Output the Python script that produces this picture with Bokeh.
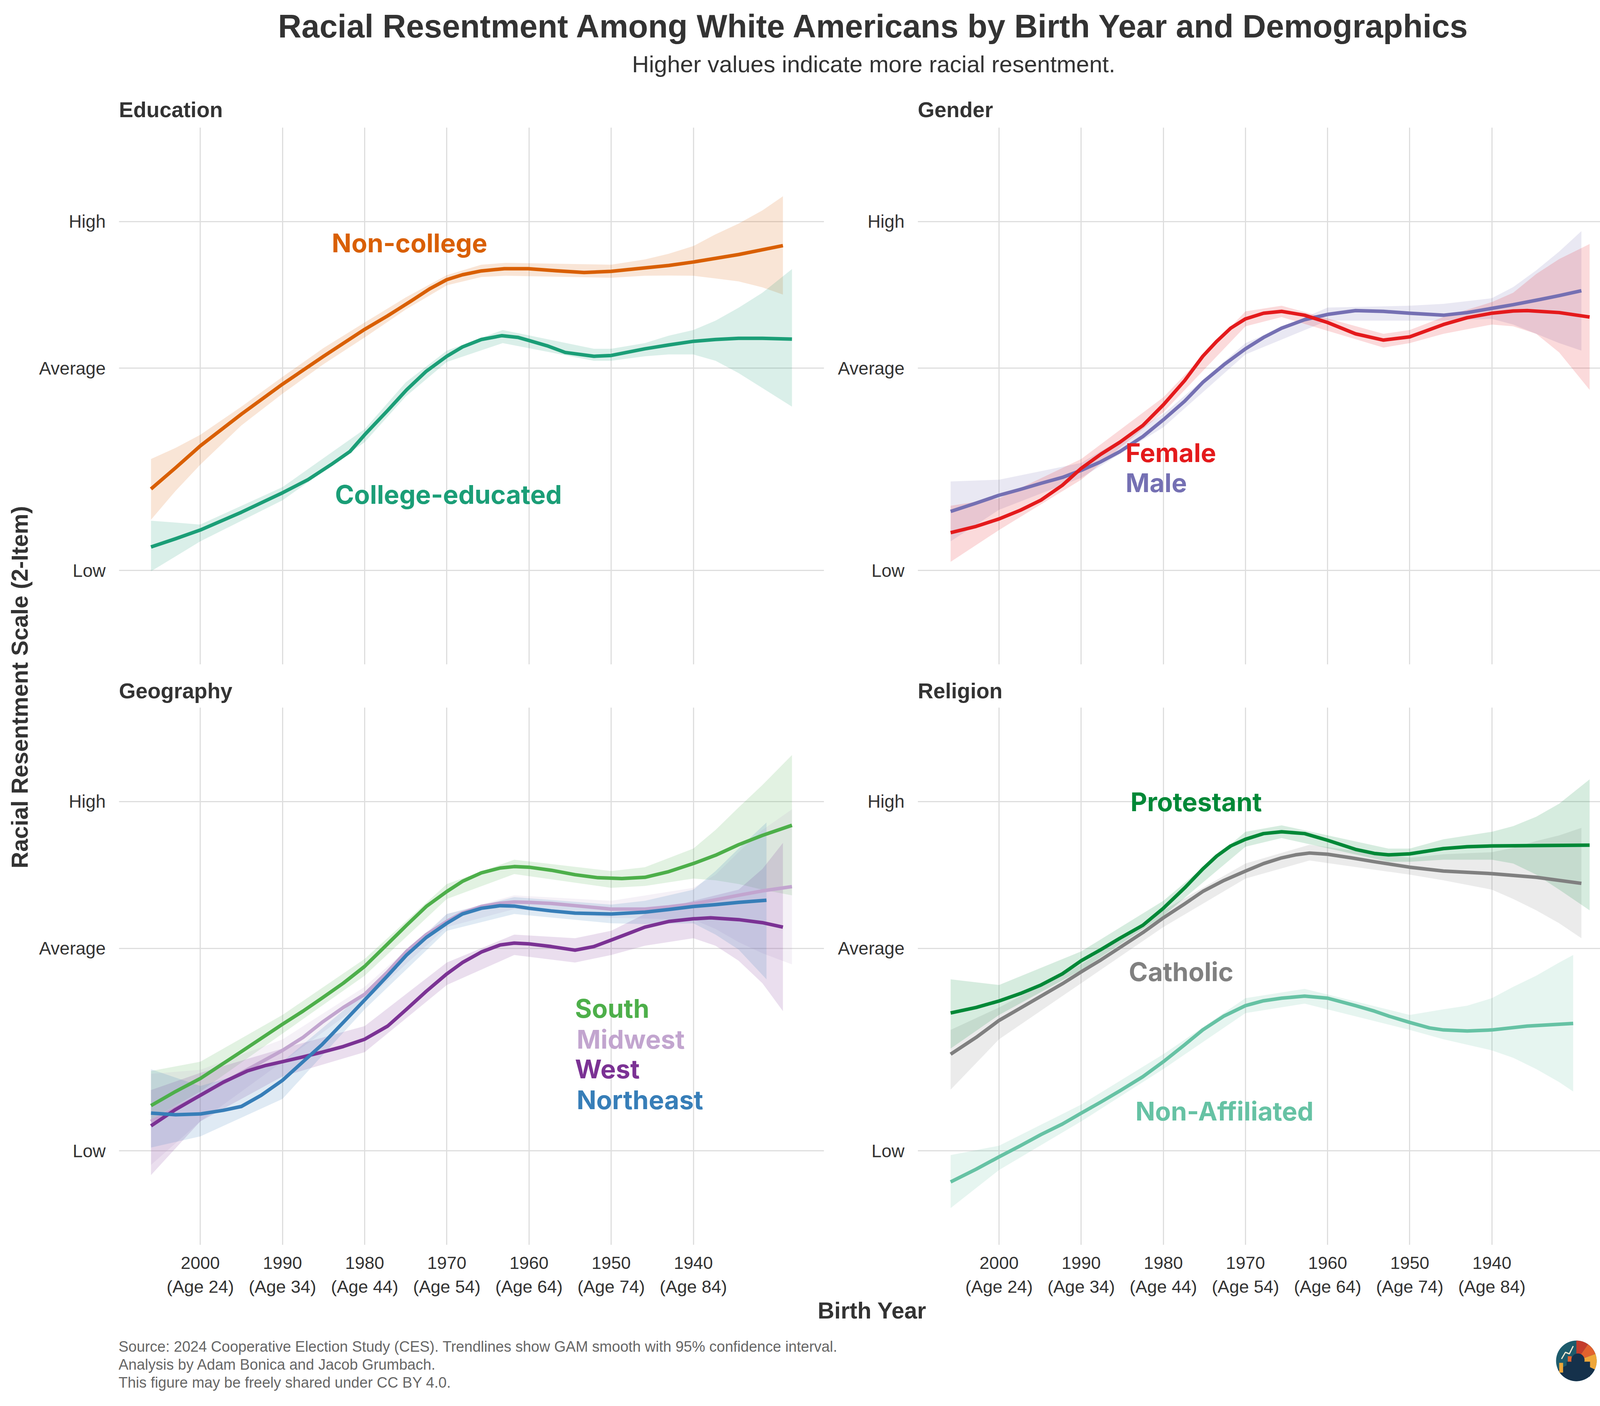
import math
from bokeh.plotting import figure
from bokeh.layouts import row, column
from bokeh.models import Range1d, FixedTicker, ColumnDataSource
from bokeh.core.properties import value
from bokeh.embed import file_html
from bokeh.resources import INLINE

# ---- axes ----
tick_years = [2000, 1990, 1980, 1970, 1960, 1950, 1940]
tick_labels = ["2000\n(Age 24)", "1990\n(Age 34)", "1980\n(Age 44)", "1970\n(Age 54)",
               "1960\n(Age 64)", "1950\n(Age 74)", "1940\n(Age 84)"]
scale_ticks = [2.0, 3.0, 3.725]
scale_labels = ["Low", "Average", "High"]

# ---- Education ----
noncollege_yr = [2006.0, 2003.0, 2000.0, 1995.0, 1990.0, 1985.0, 1980.0, 1977.2, 1974.4, 1972.1,
                 1970.0, 1968.1, 1965.8, 1963.0, 1960.1, 1956.7, 1953.3, 1950.0, 1946.4, 1943.0,
                 1940.0, 1934.5, 1929.1]
noncollege_fit = [2.403, 2.508, 2.616, 2.773, 2.921, 3.059, 3.192, 3.259, 3.331, 3.392,
                  3.438, 3.462, 3.481, 3.492, 3.492, 3.482, 3.473, 3.479, 3.494, 3.508,
                  3.525, 3.562, 3.606]
noncollege_band_yr = [2006.0, 2003.0, 2000.0, 1995.0, 1990.0, 1985.0, 1980.0, 1975.0, 1970.0, 1965.8,
                      1962.8, 1950.0, 1945.9, 1943.0, 1940.0, 1937.4, 1934.5, 1931.6, 1929.1]
noncollege_lo = [2.251, 2.394, 2.523, 2.717, 2.874, 3.020, 3.152, 3.290, 3.410, 3.451,
                 3.457, 3.447, 3.457, 3.458, 3.457, 3.444, 3.429, 3.400, 3.364]
noncollege_hi = [2.551, 2.606, 2.671, 2.810, 2.957, 3.100, 3.226, 3.350, 3.460, 3.512,
                 3.521, 3.512, 3.538, 3.566, 3.604, 3.660, 3.715, 3.780, 3.850]

college_yr = [2006.0, 2003.0, 2000.0, 1995.0, 1990.0, 1986.9, 1984.1, 1981.8, 1980.0, 1977.2,
              1974.9, 1972.5, 1970.0, 1968.1, 1965.8, 1963.3, 1961.3, 1960.0, 1957.8, 1955.6,
              1952.1, 1950.0, 1945.9, 1943.0, 1940.0, 1937.3, 1934.5, 1931.6, 1928.0]
college_fit = [2.116, 2.157, 2.200, 2.288, 2.384, 2.449, 2.523, 2.588, 2.671, 2.791,
               2.893, 2.985, 3.059, 3.105, 3.142, 3.161, 3.152, 3.137, 3.111, 3.078,
               3.059, 3.063, 3.096, 3.115, 3.133, 3.142, 3.148, 3.148, 3.144]
college_band_yr = [2006.0, 2003.0, 2000.0, 1990.0, 1980.0, 1975.0, 1970.0, 1963.2, 1952.1, 1950.0,
                   1945.9, 1943.0, 1940.0, 1937.3, 1934.5, 1931.6, 1928.0]
college_lo = [1.996, 2.070, 2.144, 2.347, 2.634, 2.860, 3.031, 3.124, 3.037, 3.037,
              3.059, 3.068, 3.068, 3.037, 2.976, 2.902, 2.810]
college_hi = [2.246, 2.237, 2.227, 2.412, 2.699, 2.930, 3.087, 3.189, 3.096, 3.096,
              3.124, 3.161, 3.189, 3.235, 3.299, 3.373, 3.490]

# ---- Gender ----
male_yr = [2005.9, 2002.8, 2000.0, 1997.4, 1994.9, 1992.3, 1990.0, 1987.6, 1985.3, 1982.5,
           1980.0, 1977.4, 1975.2, 1972.6, 1970.0, 1967.8, 1965.6, 1962.8, 1960.0, 1956.6,
           1953.2, 1950.0, 1945.9, 1943.0, 1940.0, 1937.4, 1934.6, 1931.8, 1929.1]
male_fit = [2.292, 2.333, 2.372, 2.401, 2.431, 2.460, 2.495, 2.538, 2.588, 2.662,
            2.745, 2.837, 2.930, 3.018, 3.096, 3.152, 3.198, 3.240, 3.266, 3.285,
            3.281, 3.272, 3.262, 3.275, 3.296, 3.314, 3.336, 3.359, 3.383]
male_band_yr = [2005.9, 2000.0, 1990.0, 1980.0, 1970.0, 1960.0, 1950.0, 1945.9, 1940.0, 1937.4,
                1934.6, 1931.8, 1929.1]
male_lo = [2.144, 2.300, 2.458, 2.708, 3.068, 3.235, 3.235, 3.235, 3.244, 3.216, 3.170, 3.124, 3.087]
male_hi = [2.440, 2.449, 2.532, 2.773, 3.124, 3.300, 3.309, 3.318, 3.346, 3.401, 3.484, 3.577, 3.678]

female_yr = [2005.9, 2002.8, 2000.0, 1997.4, 1994.9, 1992.3, 1990.0, 1987.6, 1985.3, 1982.5,
             1980.0, 1977.4, 1975.2, 1973.5, 1971.8, 1970.0, 1967.8, 1965.6, 1962.8, 1960.0,
             1956.6, 1953.2, 1950.0, 1945.9, 1943.0, 1940.0, 1937.4, 1935.7, 1931.8, 1928.1]
female_fit = [2.187, 2.218, 2.255, 2.298, 2.348, 2.421, 2.505, 2.575, 2.634, 2.717,
              2.819, 2.939, 3.059, 3.133, 3.198, 3.244, 3.272, 3.281, 3.262, 3.226,
              3.170, 3.139, 3.155, 3.216, 3.250, 3.272, 3.283, 3.285, 3.275, 3.253]
female_band_yr = [2005.9, 2000.0, 1990.0, 1980.0, 1970.0, 1965.6, 1953.2, 1950.0, 1945.9, 1940.0,
                  1937.4, 1934.6, 1931.8, 1928.1]
female_lo = [2.043, 2.200, 2.449, 2.782, 3.207, 3.253, 3.102, 3.124, 3.170, 3.216,
             3.207, 3.170, 3.078, 2.893]
female_hi = [2.320, 2.357, 2.551, 2.856, 3.281, 3.309, 3.170, 3.189, 3.253, 3.327,
             3.373, 3.466, 3.540, 3.614]

# ---- Geography ----
south_yr = [2006.0, 2003.0, 2000.0, 1995.0, 1990.0, 1987.5, 1985.2, 1982.6, 1980.0, 1977.2,
            1974.9, 1972.5, 1970.0, 1968.1, 1965.8, 1963.5, 1961.8, 1960.0, 1957.3, 1954.4,
            1951.6, 1948.7, 1945.9, 1943.0, 1940.0, 1937.3, 1934.5, 1931.6, 1928.0]
south_fit = [2.223, 2.293, 2.357, 2.490, 2.625, 2.690, 2.754, 2.828, 2.911, 3.022,
             3.114, 3.207, 3.281, 3.331, 3.373, 3.397, 3.404, 3.401, 3.386, 3.364,
             3.349, 3.345, 3.351, 3.379, 3.419, 3.460, 3.512, 3.558, 3.608]
south_band_yr = [2006.0, 2000.0, 1990.0, 1980.0, 1970.0, 1961.8, 1950.0, 1945.9, 1940.0, 1937.3,
                 1934.5, 1931.6, 1928.0]
south_lo = [2.154, 2.293, 2.579, 2.865, 3.244, 3.367, 3.299, 3.308, 3.345, 3.336, 3.318, 3.290, 3.262]
south_hi = [2.394, 2.440, 2.671, 2.948, 3.318, 3.438, 3.382, 3.401, 3.493, 3.585, 3.696, 3.807, 3.955]

midwest_yr = [2006.0, 2003.0, 2000.0, 1995.0, 1990.0, 1987.5, 1985.2, 1982.6, 1980.0, 1977.2,
              1974.9, 1972.5, 1970.0, 1968.1, 1965.8, 1963.5, 1961.8, 1960.0, 1957.3, 1954.4,
              1950.0, 1945.9, 1943.0, 1940.0, 1937.3, 1934.5, 1931.6, 1928.0]
midwest_fit = [2.145, 2.210, 2.274, 2.385, 2.496, 2.560, 2.634, 2.708, 2.773, 2.884,
               2.985, 3.068, 3.133, 3.175, 3.207, 3.223, 3.229, 3.227, 3.222, 3.211,
               3.194, 3.194, 3.205, 3.220, 3.240, 3.262, 3.284, 3.305]
midwest_band_yr = [2006.0, 2000.0, 1990.0, 1980.0, 1970.0, 1961.8, 1950.0, 1940.0, 1937.3, 1934.5,
                   1931.6, 1928.0]
midwest_lo = [1.930, 2.145, 2.440, 2.736, 3.105, 3.194, 3.151, 3.142, 3.096, 3.031, 2.976, 2.921]
midwest_hi = [2.380, 2.400, 2.550, 2.810, 3.170, 3.262, 3.235, 3.299, 3.364, 3.475, 3.585, 3.687]

west_yr = [2006.0, 2003.0, 2000.0, 1997.2, 1994.3, 1992.0, 1990.0, 1987.5, 1985.2, 1982.6,
           1980.0, 1977.2, 1974.9, 1972.5, 1970.0, 1968.1, 1965.8, 1963.5, 1961.8, 1960.0,
           1957.3, 1954.4, 1952.1, 1950.0, 1947.6, 1945.9, 1943.0, 1940.0, 1937.9, 1934.5,
           1931.6, 1929.1]
west_fit = [2.123, 2.204, 2.274, 2.339, 2.394, 2.422, 2.440, 2.464, 2.487, 2.515,
            2.551, 2.616, 2.699, 2.788, 2.874, 2.930, 2.982, 3.017, 3.026, 3.022,
            3.009, 2.991, 3.009, 3.041, 3.078, 3.105, 3.133, 3.146, 3.151, 3.142,
            3.127, 3.105]
west_band_yr = [2006.0, 2000.0, 1990.0, 1980.0, 1970.0, 1961.8, 1954.4, 1950.0, 1945.9, 1940.0,
                1937.3, 1934.5, 1931.6, 1929.1]
west_lo = [1.880, 2.145, 2.367, 2.487, 2.819, 2.967, 2.930, 2.967, 3.013, 3.050,
           3.013, 2.939, 2.828, 2.690]
west_hi = [2.300, 2.385, 2.505, 2.616, 2.930, 3.068, 3.050, 3.087, 3.170, 3.235,
           3.262, 3.290, 3.392, 3.521]

northeast_yr = [2006.0, 2003.0, 2000.0, 1997.2, 1995.0, 1992.6, 1990.0, 1987.5, 1985.2, 1982.6,
                1980.0, 1977.2, 1974.9, 1972.5, 1970.0, 1968.1, 1965.8, 1963.5, 1961.8, 1960.0,
                1957.3, 1954.4, 1950.0, 1945.9, 1943.0, 1940.0, 1937.3, 1934.5, 1931.1]
northeast_fit = [2.186, 2.178, 2.182, 2.200, 2.219, 2.274, 2.348, 2.440, 2.524, 2.634,
                 2.745, 2.865, 2.967, 3.054, 3.124, 3.170, 3.198, 3.211, 3.209, 3.198,
                 3.185, 3.174, 3.170, 3.179, 3.192, 3.207, 3.216, 3.227, 3.238]
northeast_band_yr = [2006.0, 2000.0, 1990.0, 1980.0, 1970.0, 1961.8, 1950.0, 1945.9, 1940.0, 1937.3,
                     1934.5, 1931.1]
northeast_lo = [2.016, 2.071, 2.256, 2.699, 3.087, 3.170, 3.124, 3.120, 3.124, 3.068, 2.994, 2.847]
northeast_hi = [2.403, 2.320, 2.440, 2.782, 3.170, 3.253, 3.216, 3.235, 3.290, 3.382, 3.493, 3.622]

# ---- Religion ----
protestant_yr = [2005.9, 2002.8, 2000.0, 1997.4, 1994.9, 1992.3, 1990.0, 1987.6, 1985.3, 1982.5,
                 1980.0, 1977.4, 1975.2, 1973.5, 1971.8, 1970.0, 1967.8, 1965.6, 1962.8, 1960.0,
                 1956.6, 1954.3, 1952.6, 1950.0, 1945.9, 1943.0, 1940.0, 1934.6, 1928.1]
protestant_fit = [2.681, 2.708, 2.740, 2.777, 2.819, 2.874, 2.939, 2.994, 3.050, 3.114,
                  3.198, 3.299, 3.392, 3.456, 3.506, 3.539, 3.567, 3.576, 3.567, 3.534,
                  3.489, 3.469, 3.462, 3.467, 3.493, 3.502, 3.506, 3.508, 3.510]
protestant_band_yr = [2005.9, 2000.0, 1990.0, 1980.0, 1970.0, 1965.6, 1952.6, 1950.0, 1945.9, 1940.0,
                      1937.4, 1934.6, 1931.8, 1928.1]
protestant_lo = [2.505, 2.671, 2.893, 3.161, 3.502, 3.545, 3.428, 3.428, 3.438, 3.438,
                 3.419, 3.364, 3.290, 3.188]
protestant_hi = [2.847, 2.819, 2.985, 3.235, 3.576, 3.608, 3.493, 3.493, 3.539, 3.576,
                 3.604, 3.650, 3.715, 3.835]

catholic_yr = [2005.9, 2002.8, 2000.0, 1997.4, 1994.9, 1992.3, 1990.0, 1987.6, 1985.3, 1982.5,
               1980.0, 1977.4, 1975.2, 1972.6, 1970.0, 1967.8, 1965.6, 1963.9, 1962.2, 1960.0,
               1957.1, 1954.3, 1950.0, 1945.9, 1940.0, 1934.6, 1929.1]
catholic_fit = [2.477, 2.560, 2.644, 2.705, 2.764, 2.825, 2.884, 2.943, 3.004, 3.078,
                3.151, 3.220, 3.281, 3.336, 3.382, 3.419, 3.447, 3.462, 3.471, 3.465,
                3.447, 3.428, 3.401, 3.382, 3.369, 3.351, 3.321]
catholic_band_yr = [2005.9, 2000.0, 1990.0, 1980.0, 1970.0, 1962.2, 1950.0, 1945.9, 1940.0, 1937.4,
                    1934.6, 1931.8, 1929.1]
catholic_lo = [2.302, 2.551, 2.828, 3.105, 3.345, 3.434, 3.364, 3.336, 3.290, 3.244, 3.188, 3.124, 3.050]
catholic_hi = [2.597, 2.708, 2.921, 3.188, 3.419, 3.512, 3.447, 3.465, 3.475, 3.497, 3.530, 3.558, 3.595]

nonaff_yr = [2005.9, 2002.8, 2000.0, 1997.4, 1994.9, 1992.3, 1990.0, 1987.6, 1985.3, 1982.5,
             1980.0, 1977.4, 1975.2, 1972.6, 1970.0, 1967.8, 1965.6, 1962.8, 1960.0, 1956.6,
             1954.3, 1952.6, 1950.0, 1947.6, 1945.9, 1943.0, 1940.0, 1935.7, 1930.1]
nonaff_fit = [1.846, 1.909, 1.970, 2.025, 2.080, 2.132, 2.186, 2.241, 2.296, 2.366,
              2.440, 2.524, 2.597, 2.666, 2.717, 2.741, 2.754, 2.764, 2.754, 2.717,
              2.690, 2.666, 2.634, 2.607, 2.597, 2.592, 2.597, 2.616, 2.629]
nonaff_band_yr = [2005.9, 2000.0, 1990.0, 1980.0, 1970.0, 1962.8, 1950.0, 1945.9, 1943.0, 1940.0,
                  1937.4, 1934.6, 1931.8, 1930.1]
nonaff_lo = [1.717, 1.905, 2.145, 2.404, 2.680, 2.727, 2.597, 2.551, 2.524, 2.496,
             2.459, 2.404, 2.339, 2.293]
nonaff_hi = [1.979, 2.025, 2.228, 2.477, 2.754, 2.800, 2.671, 2.699, 2.717, 2.754,
             2.810, 2.865, 2.930, 2.967]

# direct labels (name, x = birth year at left edge, y = scale value)
education_labels = [("Non-college", 1984.0, 3.619), ("College-educated", 1983.6, 2.375)]
gender_labels = [("Female", 1984.6, 2.582), ("Male", 1984.6, 2.434)]
geography_labels = [("South", 1954.4, 2.703), ("Midwest", 1954.2, 2.551),
                    ("West", 1954.4, 2.404), ("Northeast", 1954.2, 2.252)]
religion_labels = [("Protestant", 1984.0, 3.724), ("Catholic", 1984.2, 2.884),
                   ("Non-Affiliated", 1983.4, 2.195)]

SANS = "Liberation Sans"
LABEL_FONT = "Inter"
GRID = "#dedede"
INK = "#333333"

education = [("Non-college", "#d95f02", noncollege_yr, noncollege_fit, noncollege_band_yr, noncollege_lo, noncollege_hi),
             ("College-educated", "#1b9e77", college_yr, college_fit, college_band_yr, college_lo, college_hi)]
gender = [("Male", "#7570b3", male_yr, male_fit, male_band_yr, male_lo, male_hi),
          ("Female", "#e41a1c", female_yr, female_fit, female_band_yr, female_lo, female_hi)]
geography = [("South", "#4daf4a", south_yr, south_fit, south_band_yr, south_lo, south_hi),
             ("Midwest", "#c2a5cf", midwest_yr, midwest_fit, midwest_band_yr, midwest_lo, midwest_hi),
             ("West", "#7b3294", west_yr, west_fit, west_band_yr, west_lo, west_hi),
             ("Northeast", "#377eb8", northeast_yr, northeast_fit, northeast_band_yr, northeast_lo, northeast_hi)]
religion = [("Catholic", "#808080", catholic_yr, catholic_fit, catholic_band_yr, catholic_lo, catholic_hi),
            ("Non-Affiliated", "#66c2a4", nonaff_yr, nonaff_fit, nonaff_band_yr, nonaff_lo, nonaff_hi),
            ("Protestant", "#008837", protestant_yr, protestant_fit, protestant_band_yr, protestant_lo, protestant_hi)]


def make_panel(series, labels, frame_w, frame_h, left, right, bottom, show_x):
    p = figure(frame_width=frame_w, frame_height=frame_h,
               x_range=Range1d(2009.9, 1924.1), y_range=Range1d(1.535, 4.19),
               x_axis_location="below" if show_x else None,
               toolbar_location=None, output_backend="svg",
               min_border_left=left, min_border_right=right,
               min_border_top=0, min_border_bottom=bottom)
    p.outline_line_color = None
    p.xgrid.ticker = FixedTicker(ticks=tick_years)
    p.ygrid.ticker = FixedTicker(ticks=scale_ticks)
    p.grid.grid_line_color = GRID
    p.grid.grid_line_width = 3

    p.yaxis.ticker = FixedTicker(ticks=scale_ticks)
    p.yaxis.major_label_overrides = dict(zip(scale_ticks, scale_labels))
    axes = list(p.yaxis) + (list(p.xaxis) if show_x else [])
    for ax in axes:
        ax.axis_line_color = None
        ax.major_tick_line_color = None
        ax.minor_tick_line_color = None
        ax.major_tick_out = 0
        ax.major_tick_in = 0
        ax.major_label_text_font = SANS
        ax.major_label_text_color = INK
    p.yaxis.major_label_text_font_size = "46px"
    p.yaxis.major_label_standoff = 34
    if show_x:
        p.xaxis.ticker = FixedTicker(ticks=tick_years)
        p.xaxis.major_label_overrides = dict(zip(tick_years, tick_labels))
        p.xaxis.major_label_text_font_size = "45px"
        p.xaxis.major_label_standoff = 20

    colors = {}
    for name, color, yr, fit, byr, lo, hi in series:
        p.varea(x=byr, y1=lo, y2=hi, fill_color=color, fill_alpha=0.16)
        colors[name] = color
    for name, color, yr, fit, byr, lo, hi in series:
        p.line(yr, fit, line_color=color, line_width=9, line_join="round")

    src = ColumnDataSource(dict(x=[l[1] for l in labels], y=[l[2] for l in labels],
                                text=[l[0] for l in labels], color=[colors[l[0]] for l in labels]))
    p.text(x="x", y="y", text="text", source=src, text_color="color",
           text_font=value(LABEL_FONT), text_font_style="bold", text_font_size="66px",
           text_align="left", text_baseline="middle")
    return p


def canvas(w, h):
    p = figure(width=w, height=h, x_range=Range1d(0, w), y_range=Range1d(0, h),
               x_axis_location=None, y_axis_location=None,
               toolbar_location=None, output_backend="svg", min_border=0)
    p.grid.visible = False
    p.outline_line_color = None
    return p


def put(p, h, x, y_top, txt, size, style="normal", color=INK, align="left", font=SANS, angle=0.0):
    p.text(x=[x], y=[h - y_top], text=[txt], text_font=value(font), text_font_size=size,
           text_font_style=style, text_color=color, text_align=align, text_baseline="middle",
           angle=angle)


W = 4184
LAB_W = 92
HEAD_H = 326
STRIP_H = 110
TOP_FH = 1375
BOT_FH = 1376
BOT_B = 136
FOOT_H = 261
MID_H = TOP_FH + STRIP_H + BOT_FH + BOT_B

# header with title, subtitle and top panel titles
head = canvas(W, HEAD_H)
put(head, HEAD_H, 2238, 67, "Racial Resentment Among White Americans by Birth Year and Demographics",
    "83px", "bold", align="center")
put(head, HEAD_H, 2236, 164, "Higher values indicate more racial resentment.", "60px", align="center")
put(head, HEAD_H, 304, 280, "Education", "55px", "bold")
put(head, HEAD_H, 2349, 280, "Gender", "55px", "bold")

tl = make_panel(education, education_labels, 1805, TOP_FH, 212, 20, 0, False)
tr = make_panel(gender, gender_labels, 1804, TOP_FH, 220, 31, 0, False)
bl = make_panel(geography, geography_labels, 1805, BOT_FH, 212, 20, BOT_B, True)
br = make_panel(religion, religion_labels, 1804, BOT_FH, 220, 31, BOT_B, True)

strip = canvas(W - LAB_W, STRIP_H)
put(strip, STRIP_H, 212, 67, "Geography", "55px", "bold")
put(strip, STRIP_H, 2257, 67, "Religion", "55px", "bold")

ylab = canvas(LAB_W, MID_H)
put(ylab, MID_H, 50, 1433, "Racial Resentment Scale (2-Item)", "59px", "bold", align="center",
    angle=math.pi / 2)

foot = canvas(W, FOOT_H)
put(foot, FOOT_H, 2232, 32, "Birth Year", "59px", "bold", align="center")
notes = ["Source: 2024 Cooperative Election Study (CES). Trendlines show GAM smooth with 95% confidence interval.",
         "Analysis by Adam Bonica and Jacob Grumbach.",
         "This figure may be freely shared under CC BY 4.0."]
for i, line in enumerate(notes):
    put(foot, FOOT_H, 303, 124 + 46 * i, line, "38px", color="#666666")

# small round logo, bottom right
cx, cy, r = 4035, FOOT_H - 161, 52
foot.circle(x=[cx], y=[cy], radius=r, fill_color="#1d5b6c", line_color=None)
foot.wedge(x=[cx] * 3, y=[cy] * 3, radius=r, start_angle=[math.radians(a) for a in (55, 20, -25)],
           end_angle=[math.radians(a) for a in (90, 55, 20)],
           fill_color=["#c43c2c", "#e2622e", "#efa739"], line_color=None)
foot.wedge(x=[cx], y=[cy], radius=r, start_angle=math.radians(205), end_angle=math.radians(335),
           fill_color="#15314b", line_color=None)
foot.quad(left=[cx - 44, cx - 22], right=[cx - 34, cx - 12], bottom=[cy - 30, cy - 25],
          top=[cy - 5, cy + 12], fill_color=["#efa739", "#e2622e"], line_color=None)
foot.circle(x=[cx + 4], y=[cy + 2], radius=17, fill_color="#15314b", line_color=None)
foot.quad(left=[cx - 25], right=[cx + 35], bottom=[cy - 40], top=[cy - 2], fill_color="#15314b", line_color=None)
foot.line(x=[cx - 38, cx - 28, cx - 18, cx - 8], y=[cy + 5, cy + 22, cy + 18, cy + 38],
          line_color="#f3ead3", line_width=3)

grid = column(row(tl, tr), strip, row(bl, br))
layout = column(head, row(ylab, grid), foot)

open("out.html", "w").write(file_html(layout, INLINE, "Racial Resentment"))
